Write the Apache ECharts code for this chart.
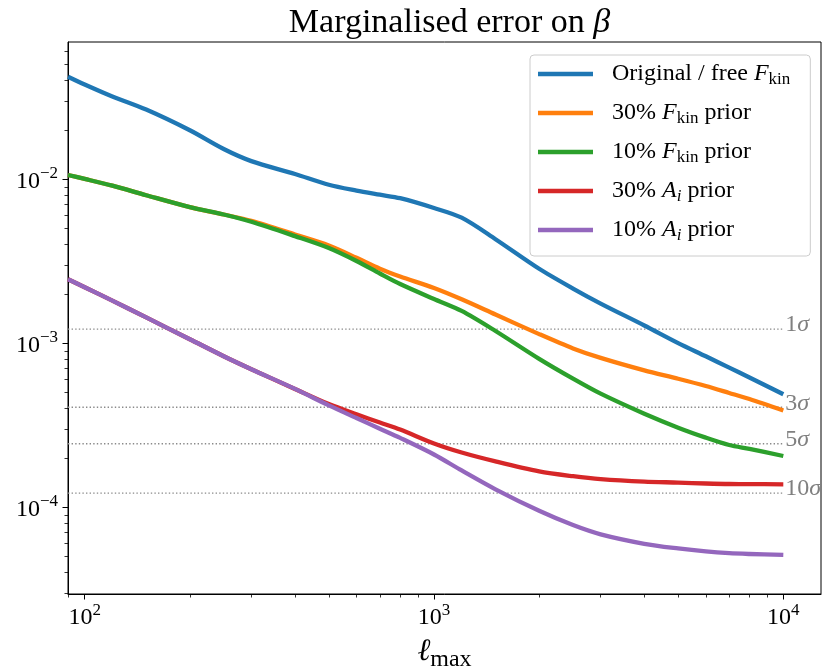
<!DOCTYPE html>
<html><head><meta charset="utf-8">
<script src="https://cdn.jsdelivr.net/npm/echarts@6/dist/echarts.min.js"></script>
<style>html,body{margin:0;padding:0;background:#fff}#c{width:823px;height:667px}</style>
</head><body><div id="c"></div>
<script>
// ---- data ----
const lmax = [89.6, 100, 120, 150, 200, 250, 300, 400, 500, 600, 700, 800, 1000, 1200, 1500, 2000, 2500, 3000, 4000, 5000, 6000, 7000, 8000, 10000];
const original = [0.04223, 0.03784, 0.03198, 0.02661, 0.01990, 0.01530, 0.01291, 0.01077, 0.009257, 0.008533, 0.008054, 0.007669, 0.006683, 0.005833, 0.004313, 0.002846, 0.002156, 0.001746, 0.001284, 0.001003, 0.000833, 0.000710, 0.000619, 0.000489];
const fkin30 = [0.01062, 0.010055, 0.009141, 0.007998, 0.006768, 0.006100, 0.005576, 0.004607, 0.003947, 0.003321, 0.002850, 0.002554, 0.002174, 0.001855, 0.001498, 0.001138, 0.000931, 0.000815, 0.000684, 0.000608, 0.000549, 0.000498, 0.000457, 0.000389];
const fkin10 = [0.01062, 0.010055, 0.009141, 0.007998, 0.006768, 0.006100, 0.005515, 0.004505, 0.003811, 0.003177, 0.002664, 0.002299, 0.001863, 0.001576, 0.001189, 0.000804, 0.000609, 0.000493, 0.000372, 0.000306, 0.000266, 0.0002398, 0.0002270, 0.0002055];
const ai30 = [0.002456, 0.002198, 0.001821, 0.001438, 0.001059, 0.000834, 0.000695, 0.000527, 0.000426, 0.000369, 0.000329, 0.000298, 0.000245, 0.0002158, 0.0001905, 0.0001656, 0.0001547, 0.0001484, 0.0001433, 0.0001415, 0.0001397, 0.0001387, 0.0001386, 0.0001381];
const ai10 = [0.002456, 0.002198, 0.001821, 0.001438, 0.001059, 0.000834, 0.000695, 0.000527, 0.000418, 0.000350, 0.0003014, 0.0002649, 0.0002099, 0.0001677, 0.0001287, 0.0000952, 0.0000779, 0.0000684, 0.0000599, 0.0000561, 0.0000538, 0.0000525, 0.0000519, 0.0000512];
const seriesNames = ['Original / free F_kin', '30% F_kin prior', '10% F_kin prior', '30% A_i prior', '10% A_i prior'];
const legendLabels = ['Original / free {it|F}{sub|kin}', '30% {it|F}{sub|kin} prior', '10% {it|F}{sub|kin} prior', '30% {it|A}{subi|i} prior', '10% {it|A}{subi|i} prior'];
const colors = ['#1f77b4', '#ff7f0e', '#2ca02c', '#d62728', '#9467bd'];
const sigmaValues = [1.22e-3, 4.07e-4, 2.44e-4, 1.22e-4];
const sigmaLabels = ['1', '3', '5', '10'];
const xTickValues = [100, 1000, 10000];
const xTickExps = ['2', '3', '4'];
const yTickValues = [1e-4, 1e-3, 1e-2];
const yTickExps = ['\u22124', '\u22123', '\u22122'];
const xMinorTicks = [90, 200, 300, 400, 500, 600, 700, 800, 900, 2000, 3000, 4000, 5000, 6000, 7000, 8000, 9000];
const yMinorTicks = [3e-5, 4e-5, 5e-5, 6e-5, 7e-5, 8e-5, 9e-5, 2e-4, 3e-4, 4e-4, 5e-4, 6e-4, 7e-4, 8e-4, 9e-4, 2e-3, 3e-3, 4e-3, 5e-3, 6e-3, 7e-3, 8e-3, 9e-3, 2e-2, 3e-2, 4e-2, 5e-2, 6e-2];
const xMin = 89.6, xMax = 12820, yMin = 2.96e-5, yMax = 0.06874;

const FF = 'Liberation Serif';
const curves = [original, fkin30, fkin10, ai30, ai10];

function findIdx(arr, v) {
  return arr.findIndex(t => Math.abs(Math.log10(t / v)) < 1e-4);
}
const tickRich = {
  b: {fontFamily: FF, fontSize: 24, lineHeight: 28, color: '#000', verticalAlign: 'bottom'},
  sup: {fontFamily: FF, fontSize: 17, lineHeight: 17, color: '#000', verticalAlign: 'top'}
};

const chart = echarts.init(document.getElementById('c'));
const series = [];
sigmaValues.forEach((v, i) => {
  series.push({
    name: 'sigma' + sigmaLabels[i], type: 'line', xAxisIndex: 0, yAxisIndex: 0,
    data: [[xMin, v], [10000, v]], symbol: 'none', silent: true,
    lineStyle: {color: '#8a8a8a', width: 1.4, type: [1.4, 2.2]},
    endLabel: {show: true, distance: 2, offset: [0, -4], formatter: sigmaLabels[i] + '{it|\u03c3}',
      color: '#808080', fontFamily: FF, fontSize: 24,
      rich: {it: {fontFamily: FF, fontSize: 24, fontStyle: 'italic', color: '#808080'}}},
    z: 1
  });
});
curves.forEach((c, i) => {
  series.push({
    name: seriesNames[i], type: 'line', xAxisIndex: 0, yAxisIndex: 0,
    data: lmax.map((l, j) => [l, c[j]]), symbol: 'none', smooth: 0.3,
    lineStyle: {color: colors[i], width: 4.3, join: 'round', cap: 'butt'}, itemStyle: {color: colors[i]}, z: 2 + i
  });
});

const option = {
  animation: false,
  title: {
    text: 'Marginalised error on {it|\u03b2}', left: 444.5, top: 1, textAlign: 'center',
    textStyle: {fontFamily: FF, fontSize: 34, fontWeight: 'normal', color: '#000',
      rich: {it: {fontFamily: FF, fontSize: 34, fontStyle: 'italic', color: '#000'}}}
  },
  grid: {left: 68, right: 2, top: 42, bottom: 73, show: true, borderColor: '#000', borderWidth: 1,
    backgroundColor: 'transparent', containLabel: false, outerBoundsMode: 'none'},
  legend: {
    data: seriesNames, orient: 'vertical', left: 530, top: 55,
    padding: [5, 20, 12, 8], itemGap: 11, itemWidth: 55, itemHeight: 4.5, icon: 'rect',
    backgroundColor: 'rgba(255,255,255,0.8)', borderColor: '#cccccc', borderWidth: 1, borderRadius: 4,
    formatter: name => '{sp|}' + legendLabels[seriesNames.indexOf(name)],
    textStyle: {fontFamily: FF, fontSize: 24, lineHeight: 28, color: '#000',
      rich: {
        sp: {width: 14},
        it: {fontFamily: FF, fontSize: 24, lineHeight: 28, fontStyle: 'italic', color: '#000'},
        sub: {fontFamily: FF, fontSize: 17, lineHeight: 16, verticalAlign: 'bottom', color: '#000'},
        subi: {fontFamily: FF, fontSize: 17, lineHeight: 16, verticalAlign: 'bottom', fontStyle: 'italic', color: '#000'}
      }}
  },
  xAxis: [{
    type: 'log', logBase: 10, min: xMin, max: xMax, position: 'bottom',
    axisLine: {show: true, lineStyle: {color: '#000', width: 1}},
    axisTick: {show: true, length: 5.5, customValues: xTickValues, lineStyle: {color: '#000', width: 1}},
    axisLabel: {customValues: xTickValues, margin: 8, showMinLabel: true, showMaxLabel: true,
      formatter: v => { const k = findIdx(xTickValues, v); return k < 0 ? '' : '{b|10}{sup|' + xTickExps[k] + '}'; },
      rich: tickRich},
    splitLine: {show: false},
    name: '{ell|\u2113}{sub|max}', nameLocation: 'middle', nameGap: 42,
    nameTextStyle: {rich: {
      ell: {fontFamily: 'DejaVu Serif', fontStyle: 'italic', fontSize: 31, lineHeight: 36, color: '#000', verticalAlign: 'top'},
      sub: {fontFamily: FF, fontSize: 24, lineHeight: 24, color: '#000', verticalAlign: 'bottom'}}}
  }, {
    type: 'log', logBase: 10, min: xMin, max: xMax, position: 'bottom',
    axisLine: {show: false},
    axisTick: {show: true, length: 3.5, customValues: xMinorTicks, lineStyle: {color: '#000', width: 0.8}},
    axisLabel: {show: false}, splitLine: {show: false}
  }],
  yAxis: [{
    type: 'log', logBase: 10, min: yMin, max: yMax, position: 'left',
    axisLine: {show: true, lineStyle: {color: '#000', width: 1}},
    axisTick: {show: true, length: 5.5, customValues: yTickValues, lineStyle: {color: '#000', width: 1}},
    axisLabel: {customValues: yTickValues, margin: 10,
      formatter: v => { const k = findIdx(yTickValues, v); return k < 0 ? '' : '{b|10}{sup|' + yTickExps[k] + '}'; },
      rich: tickRich},
    splitLine: {show: false}
  }, {
    type: 'log', logBase: 10, min: yMin, max: yMax, position: 'left',
    axisLine: {show: false},
    axisTick: {show: true, length: 3.5, customValues: yMinorTicks, lineStyle: {color: '#000', width: 0.8}},
    axisLabel: {show: false}, splitLine: {show: false}
  }],
  series: series
};
chart.setOption(option);
</script></body></html>
